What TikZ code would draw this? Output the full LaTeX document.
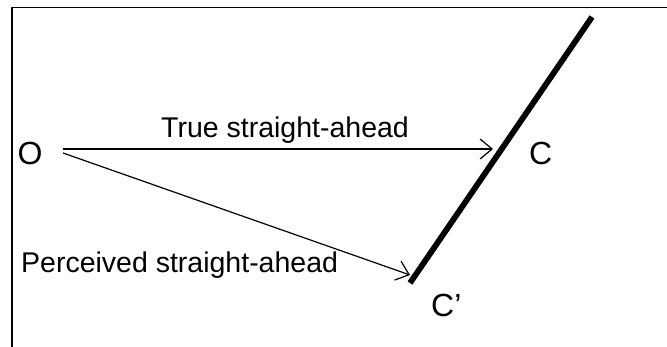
\documentclass[tikz,border=0pt]{standalone}
\usepackage{fontspec}
\setmainfont{Liberation Sans}
\usetikzlibrary{arrows.meta}
\usetikzlibrary{positioning}

\begin{document}
\begin{tikzpicture}[
  x=1pt, y=-1pt,
  every node/.style={inner sep=0pt, anchor=base west},
  point/.style={font=\fontsize{32}{32}\selectfont},
  label/.style={font=\fontsize{28.5}{28.5}\selectfont},
  ray/.style={-{Straight Barb[length=12pt, width=20pt, line width=1.2pt]}, line width=1.2pt},
]
\useasboundingbox (0,0) rectangle (667,347);
% frame
\draw[line width=1.3pt] (667,7.5) -- (12,7.5) -- (12,347);

\node[point] (O)  at (17.5,165) {O};
\node[point] (C)  at (529,165)  {C};
\node[point] (Cp) at (431,317)  {C’};
\node[label] (true) at (161,138) {True straight-ahead};
\node[label] (perc) at (21,273)  {Perceived straight-ahead};

\coordinate (o1) at (63,149);
\coordinate (o2) at (63,153);
\coordinate (c1) at (493,149);
\coordinate (c2) at (410,275);
\coordinate (top) at (592,17);
\coordinate (bot) at (410,283);

% the surface
\draw[line width=5.8pt] (bot) -- (top);

\draw[ray] (o1) to (c1);
\draw[ray] (o2) to (c2);
\end{tikzpicture}
\end{document}
